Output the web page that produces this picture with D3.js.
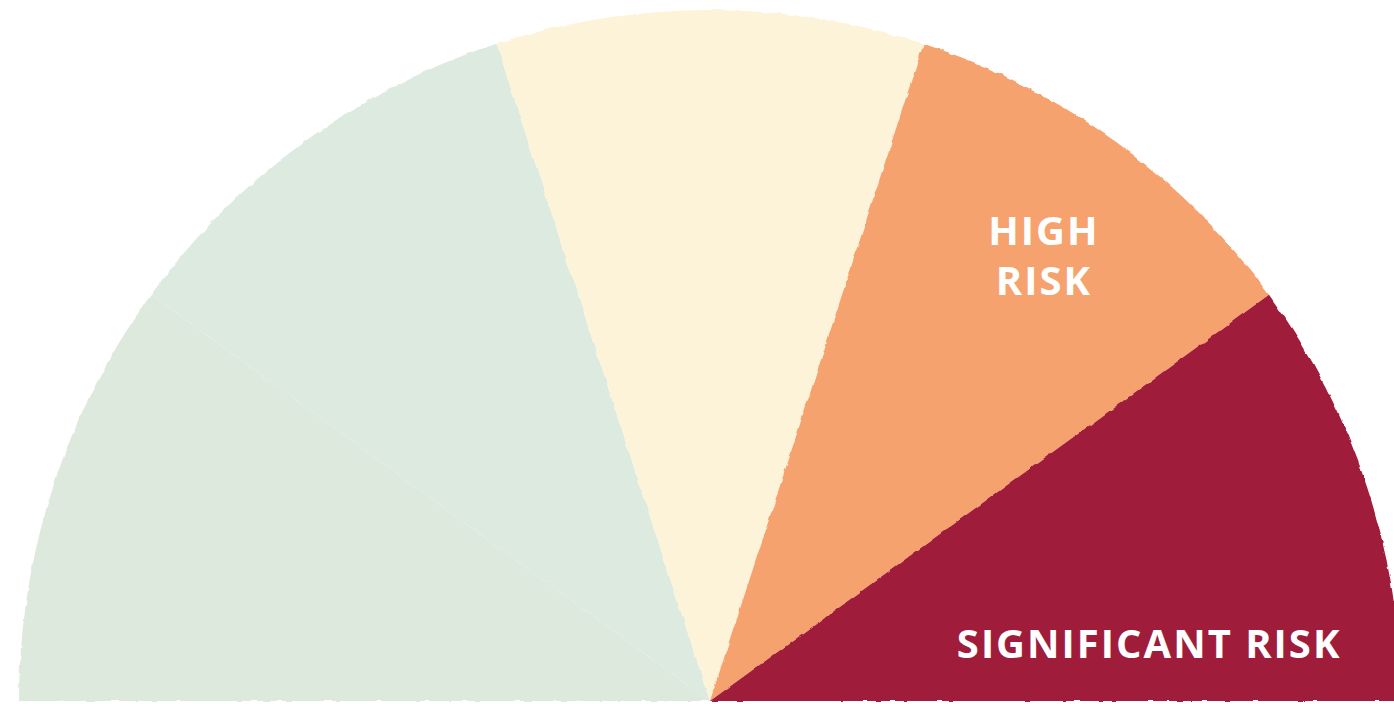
<!DOCTYPE html>
<html>
<head>
<meta charset="utf-8">
<script src="https://cdn.jsdelivr.net/npm/d3@7"></script>
<style>
  html, body { margin: 0; padding: 0; background: #fff; }
  svg { display: block; }
</style>
</head>
<body>
<div id="chart"></div>
<script>
// gauge bands, left to right
const bands = ["low", "low-moderate", "moderate", "high", "significant"];
const bandValues = [1, 1, 1, 1, 1];
const bandLabels = [[], [], [], ["HIGH", "RISK"], ["SIGNIFICANT RISK"]];
const bandColors = ["#dde9dc", "#dceae0", "#fdf3d8", "#f6a26e", "#a01a3b"];

const width = 1394, height = 704;
const cx = 710, cy = 701, radius = 691;

const svg = d3.select("#chart").append("svg")
    .attr("width", width)
    .attr("height", height);

// slightly rough brushed edge
const defs = svg.append("defs");
const rough = defs.append("filter").attr("id", "rough")
    .attr("x", "-2%").attr("y", "-2%").attr("width", "104%").attr("height", "104%");
rough.append("feTurbulence")
    .attr("type", "fractalNoise")
    .attr("baseFrequency", 0.08)
    .attr("numOctaves", 2)
    .attr("seed", 3)
    .attr("result", "noise");
rough.append("feDisplacementMap")
    .attr("in", "SourceGraphic")
    .attr("in2", "noise")
    .attr("scale", 4)
    .attr("xChannelSelector", "R")
    .attr("yChannelSelector", "G");

const pie = d3.pie()
    .sort(null)
    .value(d => d)
    .startAngle(-Math.PI / 2)
    .endAngle(Math.PI / 2);

const arcs = pie(bandValues);
const arc = d3.arc().innerRadius(0).outerRadius(radius);

const g = svg.append("g").attr("transform", `translate(${cx},${cy})`);

g.selectAll("path.band")
    .data(arcs)
    .enter()
    .append("path")
    .attr("class", "band")
    .attr("d", arc)
    .attr("fill", (d, i) => bandColors[i])
    .attr("filter", "url(#rough)");

// label placement (angle from top, clockwise; radius)
const labelPos = [null, null, null, { a: 36, r: 568 }, { a: 80.7, r: 445 }];

const labels = g.append("g").attr("class", "labels");
arcs.forEach((d, i) => {
    const lines = bandLabels[i];
    if (!lines.length) return;
    const p = labelPos[i];
    const a = p.a * Math.PI / 180;
    const x = Math.sin(a) * p.r, y = -Math.cos(a) * p.r;
    const t = labels.append("text")
        .attr("x", x)
        .attr("y", y)
        .attr("text-anchor", "middle")
        .attr("fill", "#fff")
        .style("font-family", "'Open Sans', 'DejaVu Sans', sans-serif")
        .style("font-weight", 700)
        .style("font-size", "40px")
        .style("letter-spacing", "2px");
    const lh = 50;
    const y0 = -(lines.length - 1) * lh / 2;
    lines.forEach((ln, j) => {
        t.append("tspan")
            .attr("x", x)
            .attr("dy", j === 0 ? y0 + 29 : lh)
            .text(ln);
    });
});
</script>
</body>
</html>
